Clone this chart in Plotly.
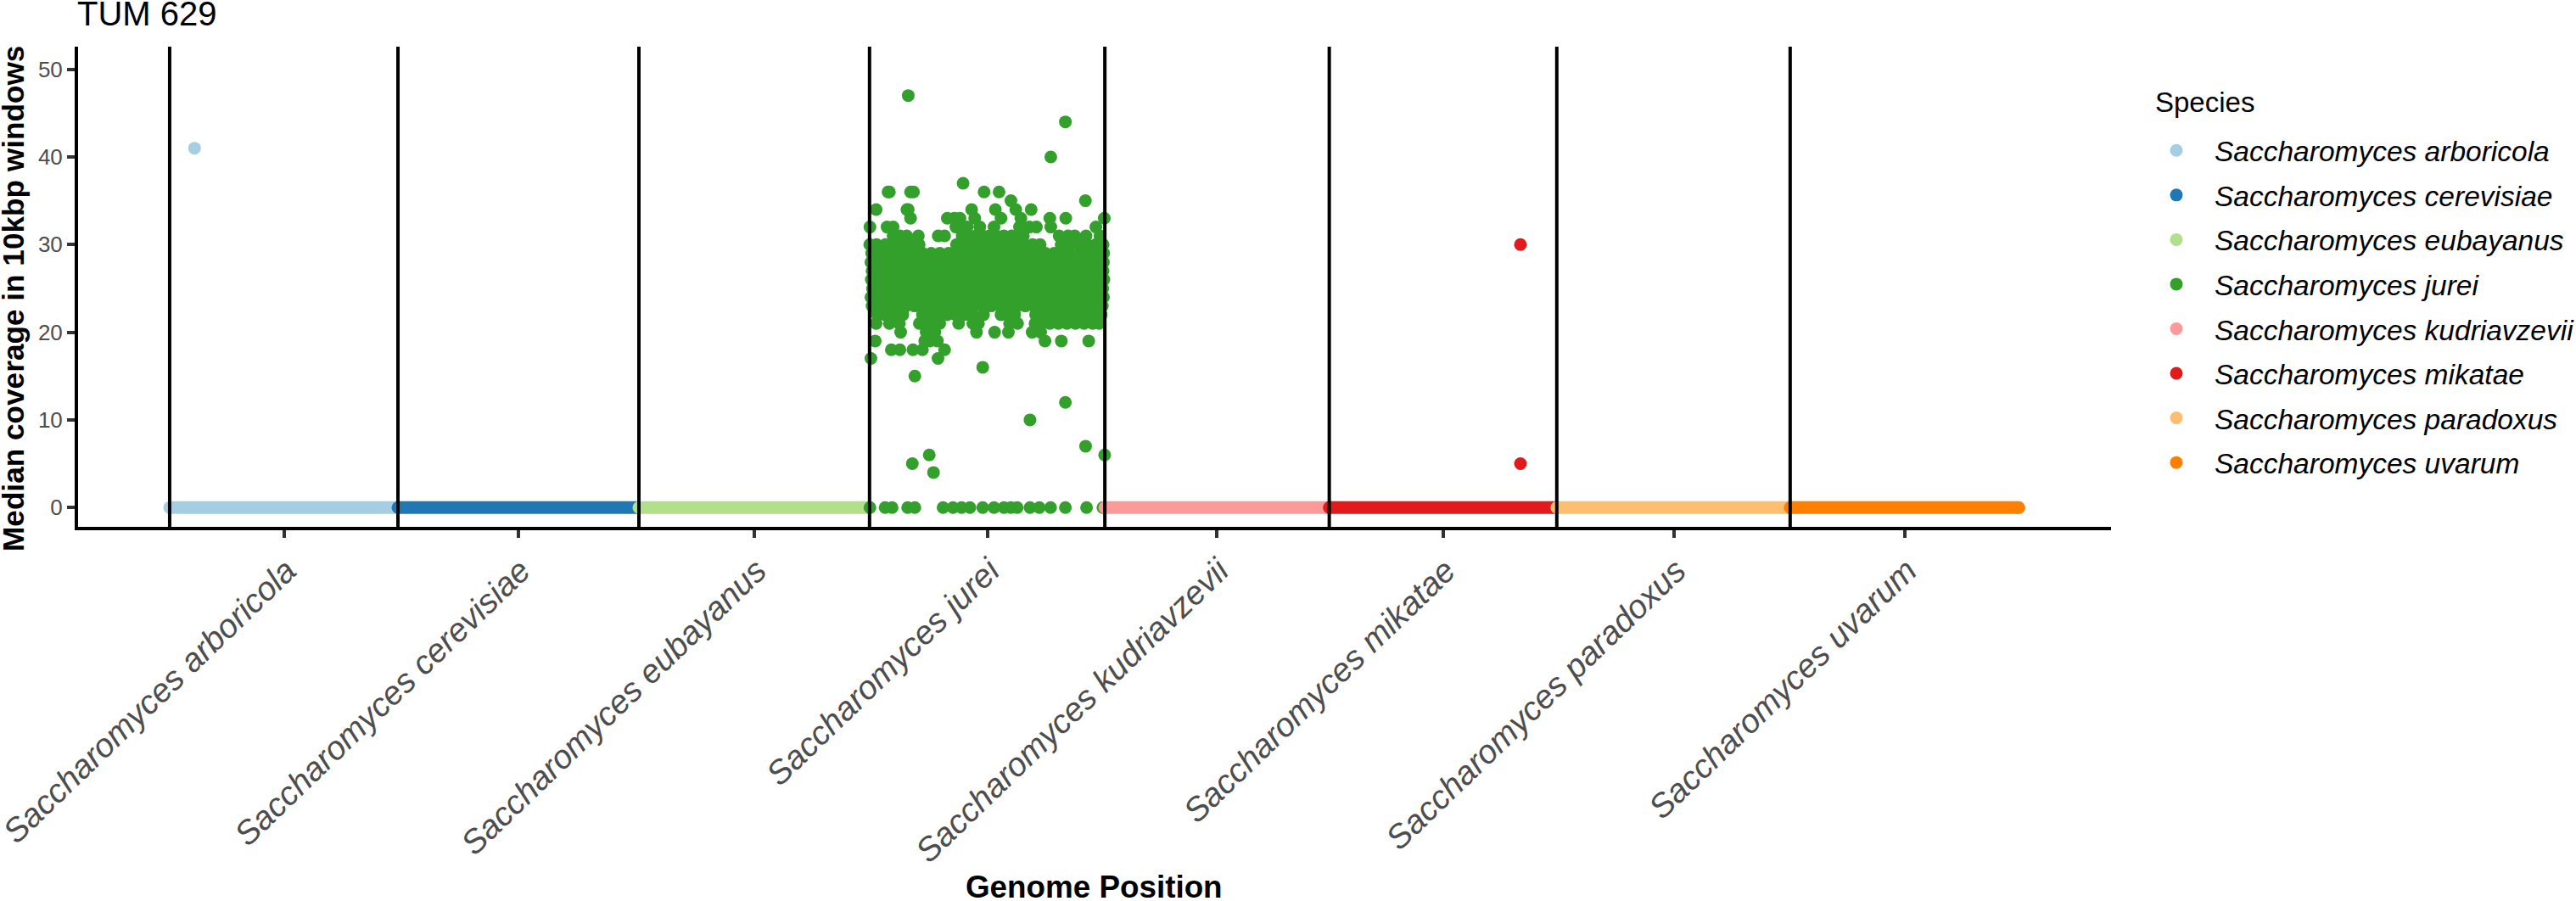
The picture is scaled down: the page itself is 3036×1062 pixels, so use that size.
import plotly.graph_objects as go

species = ["Saccharomyces arboricola", "Saccharomyces cerevisiae", "Saccharomyces eubayanus",
           "Saccharomyces jurei", "Saccharomyces kudriavzevii", "Saccharomyces mikatae",
           "Saccharomyces paradoxus", "Saccharomyces uvarum"]
colors = ["#A6CEE3", "#1F78B4", "#B2DF8A", "#33A02C", "#FB9A99", "#E31A1C", "#FDBF6F", "#FF7F00"]

# genome position in Mb (cumulated over the species)
species_start = [0.00, 11.74, 24.13, 35.99, 48.09, 59.63, 71.33, 83.33]
species_end = [11.74, 24.13, 35.99, 48.09, 59.63, 71.33, 83.33, 95.09]
tick_positions = [5.89, 17.93, 30.06, 42.06, 53.84, 65.50, 77.35, 89.22]
y_ticks = [0, 10, 20, 30, 40, 50]

# points off the zero band, other species
other_x = {0: [1.28], 5: [69.46, 69.46]}
other_y = {0: [41], 5: [30, 5]}

# jurei: windows per coverage value (x in Mb)
jurei_rows = {
    47: [37.98],
    44: [46.06],
    40: [45.31],
    37: [40.80],
    36: [36.94, 37.01, 38.10, 38.25, 41.88, 42.65],
    35: [43.26, 47.09],
    34: [36.33, 37.91, 37.98, 41.24, 42.46, 43.51, 44.30],
    33: [38.10, 39.99, 40.35, 40.64, 41.40, 42.75, 43.77, 45.26, 46.08, 48.06],
    32: [36.01, 36.89, 37.20, 40.43, 41.01, 41.66, 42.39, 43.70, 44.21, 44.57, 45.31, 47.63],
    31: [37.20, 37.55, 37.90, 38.50, 39.52, 39.85, 40.75, 41.10, 41.45, 41.80, 42.15, 42.50, 42.90,
         43.30, 43.70, 43.90, 45.74, 46.20, 46.54, 47.12, 47.84],
    30: [36.00, 36.35, 36.80, 37.25, 37.70, 38.15, 38.54, 40.46, 40.85, 41.30, 41.72, 42.18, 42.62,
         43.05, 43.50, 43.95, 44.38, 44.76, 45.84, 46.28, 46.72, 47.18, 47.62, 48.00],
    29: [36.10, 36.52, 36.95, 37.40, 37.85, 38.28, 38.72, 39.16, 39.60, 40.05, 40.50, 40.92, 41.36,
         41.80, 42.25, 42.68, 42.88, 43.28, 43.72, 44.16, 44.60, 45.04, 45.48, 45.92, 46.28, 46.85,
         47.30, 47.72, 48.03],
    28: [36.06, 36.34, 36.76, 37.18, 37.62, 38.08, 38.50, 38.94, 39.38, 39.82, 40.26, 40.70, 41.14,
         41.60, 42.04, 42.46, 42.92, 43.36, 43.80, 44.24, 44.68, 45.12, 45.56, 46.00, 46.44, 46.90,
         47.36, 47.80, 48.02],
    27: [36.12, 36.55, 36.98, 37.42, 37.86, 38.30, 38.74, 39.18, 39.62, 40.04, 40.48, 40.94, 41.38,
         41.82, 42.24, 42.70, 43.14, 43.58, 44.02, 44.44, 44.88, 45.32, 45.78, 46.22, 46.66, 47.10,
         47.56, 48.00],
    26: [36.08, 36.32, 36.74, 37.20, 37.64, 38.06, 38.52, 38.96, 39.40, 39.84, 40.26, 40.72, 41.16,
         41.58, 42.02, 42.48, 42.92, 43.36, 43.78, 44.22, 44.66, 45.10, 45.54, 46.00, 46.42, 46.88,
         47.32, 47.76, 48.04],
    25: [36.14, 36.56, 37.00, 37.44, 37.84, 38.30, 38.72, 39.18, 39.60, 40.06, 40.50, 40.92, 41.38,
         41.80, 42.26, 42.68, 43.14, 43.56, 44.00, 44.46, 44.88, 45.34, 45.76, 46.22, 46.64, 47.10,
         47.54, 47.98],
    24: [36.06, 36.34, 36.78, 37.22, 37.62, 38.08, 38.52, 38.96, 39.38, 39.84, 40.28, 40.70, 41.16,
         41.60, 42.02, 42.46, 42.92, 43.34, 43.80, 44.24, 44.66, 45.12, 45.54, 46.00, 46.44, 46.88,
         47.34, 47.78, 48.02],
    23: [36.12, 36.56, 36.98, 37.44, 37.86, 38.30, 38.74, 39.20, 39.62, 40.04, 40.50, 40.94, 41.36,
         41.82, 42.24, 42.70, 43.12, 43.58, 44.00, 44.44, 44.90, 45.32, 45.76, 46.22, 46.66, 47.08,
         47.54, 47.96],
    22: [36.38, 36.78, 37.20, 37.70, 38.71, 39.10, 39.54, 39.98, 40.42, 40.86, 41.30, 41.85, 42.75,
         43.20, 43.45, 44.53, 44.96, 45.40, 45.84, 46.28, 46.72, 47.16, 47.60, 47.90],
    21: [36.33, 37.01, 37.52, 38.55, 38.95, 39.25, 39.60, 40.57, 41.30, 41.59, 43.19, 43.60,
         44.50, 44.84, 45.26, 45.70, 46.14, 46.58, 47.02, 47.46, 47.80],
    20: [37.59, 38.90, 39.20, 39.35, 41.49, 42.42, 43.13, 44.35, 44.79],
    19: [36.28, 38.83, 39.10, 39.48, 45.01, 45.85, 47.26],
    18: [37.11, 37.55, 38.22, 38.71, 39.85],
    17: [36.06, 39.51],
    16: [41.81],
    15: [38.32],
    12: [46.06],
    10: [44.24],
    7: [47.10],
    6: [39.06, 48.08],
    5: [38.19],
    4: [39.28],
    0: [36.01, 36.79, 37.15, 37.95, 38.32, 39.77, 40.28, 40.72, 41.15, 41.81, 42.39, 42.90, 43.26,
        43.58, 44.24, 44.72, 45.30, 46.06, 47.15, 47.99],
}

FONT = "Liberation Sans"
fig = go.Figure()

for i, name in enumerate(species):
    if i == 3:
        xs = [x for v, row in jurei_rows.items() for x in row]
        ys = [v for v, row in jurei_rows.items() for _ in row]
    else:
        fig.add_trace(go.Scatter(x=[species_start[i], species_end[i]], y=[0, 0], mode="lines",
                                 line=dict(color=colors[i], width=15), showlegend=False,
                                 hoverinfo="skip"))
        xs = [species_start[i], species_end[i]] + other_x.get(i, [])
        ys = [0, 0] + other_y.get(i, [])
    fig.add_trace(go.Scatter(x=xs, y=ys, mode="markers", name=name, legendgroup=name,
                             marker=dict(color=colors[i], size=15, line=dict(width=0))))

for b in species_start:
    fig.add_shape(type="line", xref="x", yref="paper", x0=b, x1=b, y0=0, y1=1,
                  line=dict(color="black", width=4))

W, H = 3036, 1062
L, R, T, B = 92, 548, 55, 441
pw, ph = W - L - R, H - T - B


def paper_x(px):
    return (px - L) / pw


def paper_y(py):
    return (H - B - py) / ph


fig.add_annotation(text="Species", xref="paper", yref="paper", x=paper_x(2538), y=paper_y(120),
                   xanchor="left", yanchor="middle", showarrow=False,
                   font=dict(family=FONT, size=33, color="black"))
fig.add_annotation(text="Median coverage in 10kbp windows", xref="paper", yref="paper",
                   x=paper_x(15), y=paper_y(352), xanchor="center", yanchor="middle",
                   textangle=-90, showarrow=False,
                   font=dict(family=FONT, size=35.2, color="black", weight="bold"))
fig.add_annotation(text="Genome Position", xref="paper", yref="paper",
                   x=paper_x(1289), y=paper_y(1045), xanchor="center", yanchor="middle",
                   showarrow=False,
                   font=dict(family=FONT, size=36.8, color="black", weight="bold"))

fig.update_layout(
    width=W, height=H, autosize=False,
    paper_bgcolor="white", plot_bgcolor="white",
    margin=dict(l=L, r=R, t=T, b=B, autoexpand=False),
    font=dict(family=FONT, color="black"),
    title=dict(text="TUM 629", font=dict(family=FONT, size=40, color="black"),
               xref="container", yref="container", x=91 / W, xanchor="left",
               y=1 - 30 / H, yanchor="bottom", pad=dict(b=0)),
    legend=dict(xref="container", yref="container", x=2520 / W, y=1 - 149 / H,
                xanchor="left", yanchor="top", itemsizing="trace", itemwidth=80,
                tracegroupgap=6, bgcolor="rgba(0,0,0,0)",
                font=dict(family=FONT, size=33.5, color="black", style="italic")),
    xaxis=dict(range=[-4.71, 99.83], showgrid=False, zeroline=False,
               showline=True, linecolor="black", linewidth=4,
               tickmode="array", tickvals=tick_positions, ticktext=species,
               ticks="outside", ticklen=9, tickwidth=4, tickcolor="#333333", tickangle=-44,
               ticklabelshift=3, ticklabeloverflow="allow",
               tickfont=dict(family=FONT, size=39.2, color="#4D4D4D", style="italic")),
    yaxis=dict(range=[-2.207, 52.58], showgrid=False, zeroline=False,
               showline=True, linecolor="black", linewidth=4,
               tickmode="array", tickvals=y_ticks,
               ticks="outside", ticklen=9, tickwidth=4, tickcolor="#333333",
               tickfont=dict(family=FONT, size=26, color="#4D4D4D")),
)

fig.write_html("out.html", post_script="document.body.style.margin='0';",
               config={"displayModeBar": False})
